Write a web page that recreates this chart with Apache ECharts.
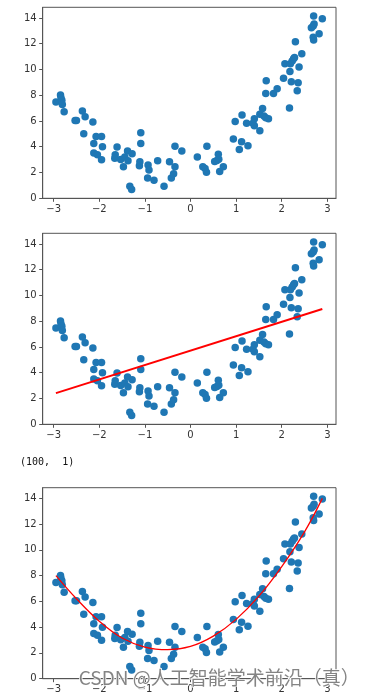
<!DOCTYPE html>
<html><head><meta charset="utf-8">
<script src="https://cdn.jsdelivr.net/npm/echarts@6/dist/echarts.min.js"></script>
<style>html,body{margin:0;padding:0;background:#fff}#c{width:371px;height:699px}</style>
</head><body><div id="c"></div>
<script>
const xs = [-2.95,-2.85,-2.84,-2.82,-2.81,-2.77,-2.53,-2.50,-2.37,-2.31,-2.34,-2.14,-2.12,-2.07,-1.95,-1.93,-2.12,-2.04,-1.95,-1.65,-1.66,-1.61,-1.53,-1.47,-1.44,-1.38,-1.37,-1.28,-1.33,-1.29,-1.09,-1.09,-1.11,-1.12,-0.93,-0.91,-0.94,-0.80,-0.72,-0.58,-0.46,-0.42,-0.37,-0.34,-0.34,-0.19,0.15,0.27,0.32,0.35,0.36,0.53,0.58,0.61,0.62,0.64,0.72,0.94,0.98,1.07,1.12,1.13,1.23,1.26,1.37,1.40,1.40,1.52,1.52,1.58,1.61,1.65,1.71,1.66,1.65,1.82,1.90,2.04,2.07,2.18,2.17,2.19,2.21,2.23,2.26,2.28,2.30,2.36,2.34,2.38,2.44,2.65,2.69,2.70,2.71,2.69,2.70,2.82,2.89];
const ys = [7.47,8.01,7.80,7.60,7.28,6.71,6.04,6.04,6.77,6.33,5.00,5.91,4.25,4.80,4.80,3.99,3.50,3.37,2.98,3.37,3.11,3.97,3.01,2.44,3.19,3.66,2.90,3.45,0.93,0.67,5.08,4.25,2.83,2.51,2.57,2.18,1.56,1.40,2.90,0.93,2.83,1.56,1.89,2.44,4.04,3.66,3.19,2.44,2.31,2.02,4.04,2.85,2.93,3.42,3.03,2.07,2.44,4.59,5.96,3.79,4.38,6.46,5.83,4.07,5.83,6.17,5.63,5.24,6.53,6.97,6.38,6.25,6.17,9.13,8.14,8.14,8.50,9.31,10.45,9.85,7.00,10.45,9.05,10.66,10.84,10.92,12.16,8.97,8.35,10.19,11.23,13.25,13.38,14.16,13.54,12.50,12.29,12.78,13.95];
const linX = [-2.95, 2.89];
const linY = [2.41, 8.95];
const polyX = [-2.95,-2.5,-2.0,-1.5,-1.0,-0.5,0.0,0.5,1.0,1.5,2.0,2.5,2.89];
const polyY = [8.0,6.2,4.45,3.15,2.45,2.25,2.5,3.3,4.6,6.4,8.7,11.4,14.0];
const xTicks = [-3,-2,-1,0,1,2,3];
const yTicks = [0,2,4,6,8,10,12,14];

const pts = xs.map((x,i)=>[x,ys[i]]);
const tops = [7.3, 233.3, 487.7];
const chart = echarts.init(document.getElementById('c'));
const axisCommon = {
  axisLine:{show:true,onZero:false,lineStyle:{color:'#555',width:1}},
  axisTick:{show:true,length:3.5,lineStyle:{color:'#555'}},
  splitLine:{show:false},
  axisLabel:{color:'#333',fontSize:10,fontFamily:'DejaVu Sans',margin:6,
    formatter:v=>String(v).replace('-','\u2212')}
};
const grid=[], xAxis=[], yAxis=[], series=[];
tops.forEach((t,i)=>{
  grid.push({left:42.7,right:35,top:t,height:191,show:true,borderColor:'#555',borderWidth:1,backgroundColor:'transparent'});
  xAxis.push(Object.assign({type:'value',gridIndex:i,min:-3.24,max:3.19,interval:1,
    axisLabel:Object.assign({},axisCommon.axisLabel,{margin:6,customValues:xTicks}),
    axisTick:Object.assign({},axisCommon.axisTick,{customValues:xTicks})},
    {axisLine:axisCommon.axisLine,splitLine:axisCommon.splitLine}));
  yAxis.push(Object.assign({type:'value',gridIndex:i,min:-0.01,max:14.83,
    axisLabel:Object.assign({},axisCommon.axisLabel,{margin:6,customValues:yTicks}),
    axisTick:Object.assign({},axisCommon.axisTick,{customValues:yTicks})},
    {axisLine:axisCommon.axisLine,splitLine:axisCommon.splitLine}));
  series.push({type:'scatter',xAxisIndex:i,yAxisIndex:i,data:pts,symbolSize:7.5,
    itemStyle:{color:'#1f77b4',opacity:1},z:2});
});
series.push({type:'line',xAxisIndex:1,yAxisIndex:1,data:linX.map((x,i)=>[x,linY[i]]),
  symbol:'none',lineStyle:{color:'#ff0000',width:2},z:3});
series.push({type:'line',xAxisIndex:2,yAxisIndex:2,data:polyX.map((x,i)=>[x,polyY[i]]),
  symbol:'none',smooth:0.4,lineStyle:{color:'#ff0000',width:1.3},z:3});

chart.setOption({
  animation:false,
  grid, xAxis, yAxis, series,
  graphic:[
    {type:'text',left:20,top:457,style:{text:'(100,  1)',font:'10px "DejaVu Sans Mono"',fill:'#111'}},
    {type:'text',left:78,top:668,z:100,style:{text:'CSDN @人工智能学术前沿（真）',
      font:'19px "Noto Sans CJK SC"',fill:'rgba(110,110,110,0.85)',stroke:'#fff',lineWidth:1.5}}
  ]
});
</script></body></html>
